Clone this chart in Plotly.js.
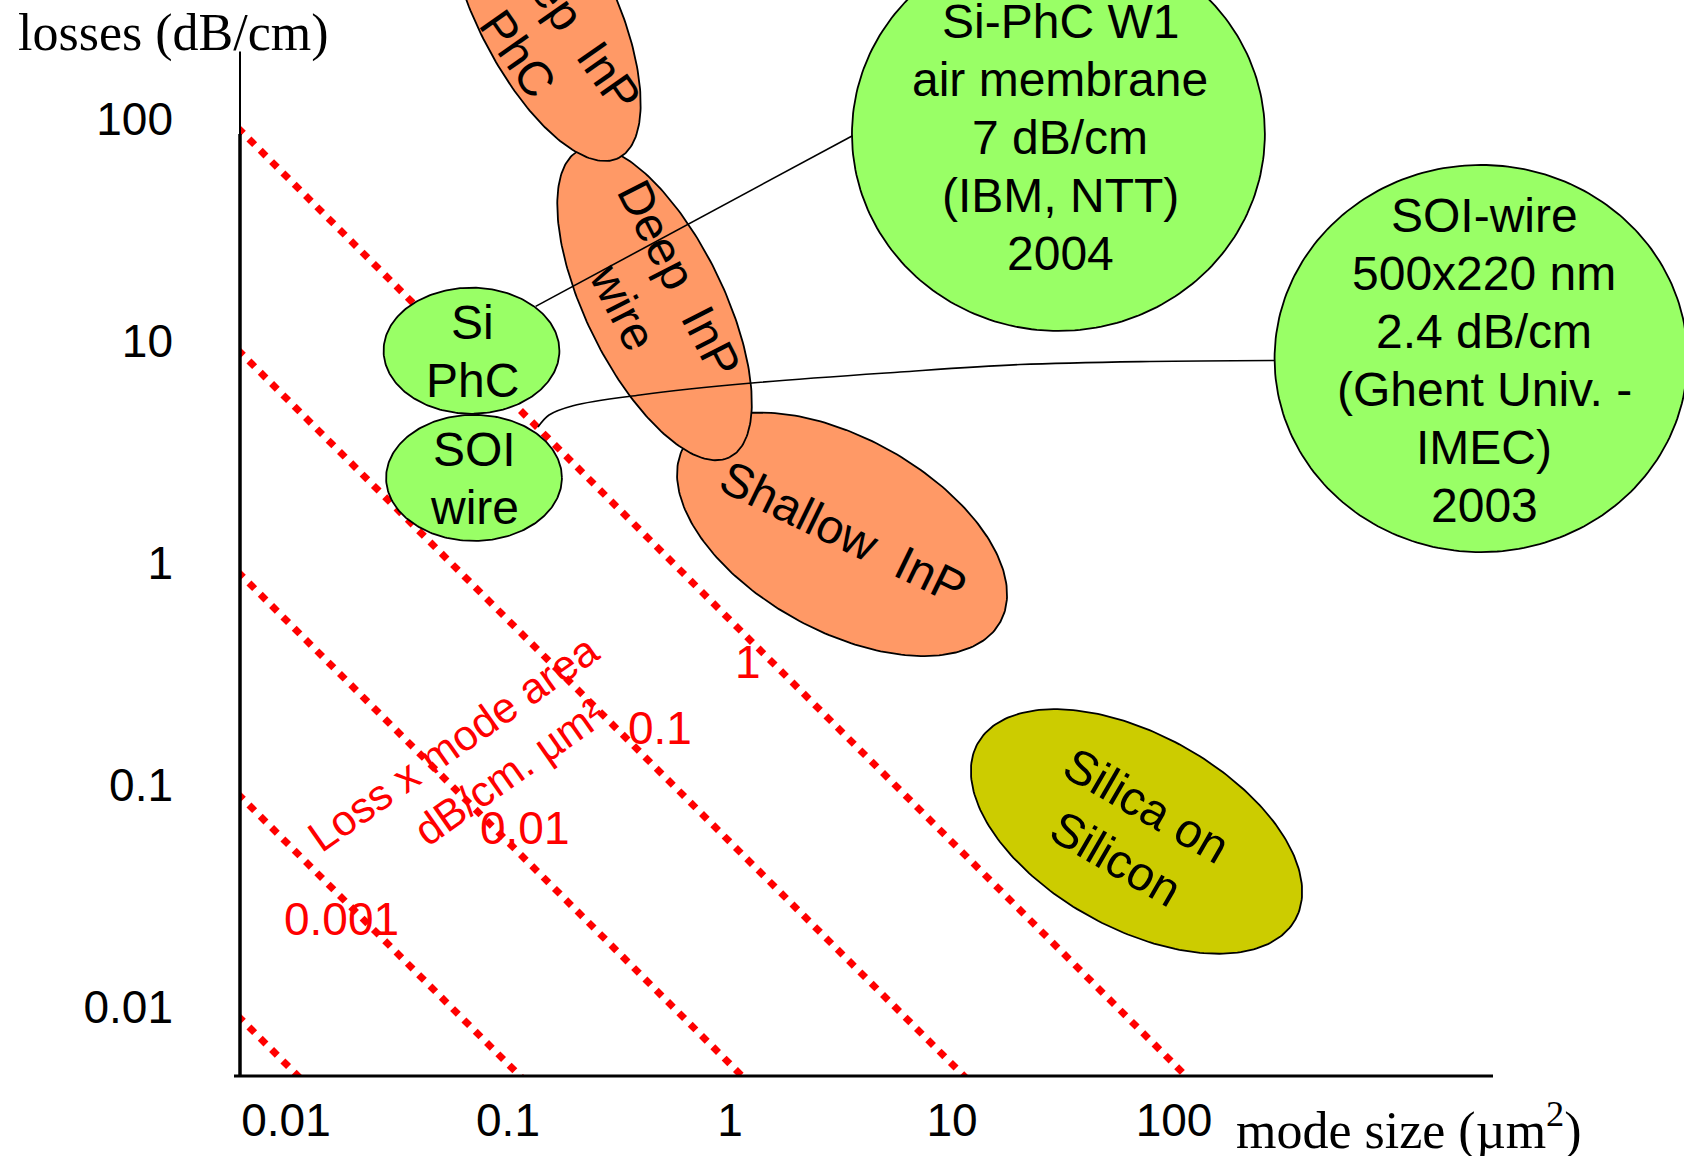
<!DOCTYPE html>
<html><head><meta charset="utf-8">
<script src="https://cdn.plot.ly/plotly-3.0.1.min.js"></script>
<style>html,body{margin:0;padding:0;background:#fff;} #chart{width:1684px;height:1156px;}</style>
</head><body><div id="chart"></div>
<script>
// ---- data ----
// axis ticks
const xTickVals = [0.01, 0.1, 1, 10, 100];
const xTickText = ["0.01", "0.1", "1", "10", "100"];
const yTickVals = [0.01, 0.1, 1, 10, 100];
const yTickText = ["0.01", "0.1", "1", "10", "100"];

// iso lines: loss x mode area = constant (dB/cm . µm²)
const productValues = [1, 0.1, 0.01, 0.001, 0.0001];
const productLabels = ["1", "0.1", "0.01", "0.001"];
const productLabelModeSize = [1.587, 0.640, 0.1578, 0.02341];
const productLabelLoss = [0.4888, 0.2477, 0.0874, 0.0340];

// technology regions (centre in mode size / loss, extent in decades, tilt in degrees)
const regionGroup = ["InP", "InP", "InP", "Silica", "Si", "Si", "Si", "Si"];
const regionText = ["Shallow\u00a0 InP", "Deep\u00a0 InP<br>wire", "Deep\u00a0 InP<br>PhC", "Silica on<br>Silicon",
  "Si<br>PhC", "SOI<br>wire", "Si-PhC W1<br>air membrane<br>7 dB/cm<br>(IBM, NTT)<br>2004",
  "SOI-wire<br>500x220 nm<br>2.4 dB/cm<br>(Ghent Univ. -<br>IMEC)<br>2003"];
const regionModeSize = [4.23, 0.605, 0.191, 89.7, 0.0906, 0.0930, 39.9, 3196];
const regionLoss = [1.838, 20.1, 447.7, 0.0843, 12.34, 3.30, 116.8, 11.38];
const regionMajorDecades = [0.815, 0.770, 0.770, 0.818, 0.396, 0.396, 0.930, 0.930];
const regionMinorDecades = [0.435, 0.311, 0.311, 0.437, 0.284, 0.284, 0.887, 0.872];
const regionTiltDeg = [-29, -64, -64, -29, 0, 0, 0, 0];
const regionLabelModeSize = [4.272, 0.5831, 0.1902, 84.7, 0.0920, 0.0930, 40.56, 3296];
const regionLabelLoss = [1.873, 22.46, 322.9, 0.0838, 12.24, 3.280, 112.1, 11.2];
const regionLabelAngle = [26, 63, 55, 30, 0, 0, 0, 0];

// call-out connectors
const calloutPhcModeSize = [0.1763, 4.714];
const calloutPhcLoss = [19.55, 114.8];
const calloutWireModeSize = [0.1806, 0.2025, 0.2597, 0.5201, 1.662, 7.718, 26.79, 103.1, 373.4];
const calloutWireLoss = [5.594, 6.337, 6.979, 7.798, 8.830, 9.897, 10.69, 11.04, 11.15];

// ---- styles ----
const groupFill = {InP: "#FF9966", Silica: "#CCCC00", Si: "#99FF66"};
const SANS = "Liberation Sans, Arial, sans-serif";
const SERIF = "Liberation Serif, Times New Roman, serif";
const LINE_GAP_UPRIGHT = 58, LINE_GAP_TILTED = 62;

const traces = [];
// iso-product lines
const xSpan = [Math.pow(10, -2.3), Math.pow(10, 4.6)];
productValues.forEach(function (c) {
  traces.push({type: "scatter", mode: "lines", x: xSpan, y: xSpan.map(function (x) { return c / x; }),
    line: {color: "#FF0000", width: 7, dash: "8px,8px"}, hoverinfo: "skip", showlegend: false});
});
// region ellipses (drawn in log space)
regionGroup.forEach(function (g, i) {
  const n = 240, lx = Math.log10(regionModeSize[i]), ly = Math.log10(regionLoss[i]);
  const A = regionMajorDecades[i], B = regionMinorDecades[i], phi = regionTiltDeg[i] * Math.PI / 180;
  const xs = [], ys = [];
  for (let k = 0; k <= n; k++) {
    const t = 2 * Math.PI * k / n, dx = A * Math.cos(t), dy = B * Math.sin(t);
    xs.push(Math.pow(10, lx + dx * Math.cos(phi) - dy * Math.sin(phi)));
    ys.push(Math.pow(10, ly + dx * Math.sin(phi) + dy * Math.cos(phi)));
  }
  traces.push({type: "scatter", mode: "lines", x: xs, y: ys, fill: "toself",
    fillcolor: groupFill[g], line: {color: "#000", width: 1.8},
    hoverinfo: "skip", showlegend: false});
});
// connectors
traces.push({type: "scatter", mode: "lines", x: calloutPhcModeSize, y: calloutPhcLoss,
  line: {color: "#000", width: 1.6}, hoverinfo: "skip", showlegend: false});
traces.push({type: "scatter", mode: "lines", x: calloutWireModeSize, y: calloutWireLoss,
  line: {color: "#000", width: 1.6, shape: "spline", smoothing: 1}, hoverinfo: "skip", showlegend: false});

const annotations = [];
regionText.forEach(function (t, i) {
  const lines = t.split("<br>"), n = lines.length, ang = regionLabelAngle[i];
  const gap = ang === 0 ? LINE_GAP_UPRIGHT : LINE_GAP_TILTED, a = ang * Math.PI / 180;
  lines.forEach(function (line, j) {
    const d = (j - (n - 1) / 2) * gap;
    annotations.push({xref: "x", yref: "y", x: Math.log10(regionLabelModeSize[i]), y: Math.log10(regionLabelLoss[i]),
      xshift: -Math.sin(a) * d, yshift: -Math.cos(a) * d,
      text: line, showarrow: false, textangle: ang, xanchor: "center", yanchor: "middle",
      font: {family: SANS, size: 48, color: "#000"}});
  });
});
productLabels.forEach(function (t, i) {
  annotations.push({xref: "x", yref: "y", x: Math.log10(productLabelModeSize[i]), y: Math.log10(productLabelLoss[i]),
    text: t, showarrow: false, xanchor: "center", yanchor: "middle",
    font: {family: SANS, size: 46, color: "#FF0000"}});
});
annotations.push({xref: "x", yref: "y", x: Math.log10(0.0748), y: Math.log10(0.2110), text: "Loss x mode area",
  showarrow: false, textangle: -35, xanchor: "center", yanchor: "middle", font: {family: SANS, size: 43, color: "#FF0000"}});
annotations.push({xref: "x", yref: "y", x: Math.log10(0.1337), y: Math.log10(0.1562), text: "dB/cm. \u00b5m\u00b2",
  showarrow: false, textangle: -35, xanchor: "center", yanchor: "middle", font: {family: SANS, size: 43, color: "#FF0000"}});

// axis titles (placed as in the original slide)
const PW = 1444, PH = 1076, ML = 240;
annotations.push({xref: "paper", yref: "paper", x: (16 - ML) / PW, y: (PH - 33) / PH, xanchor: "left", yanchor: "middle",
  text: "losses (dB/cm)", showarrow: false, font: {family: SERIF, size: 52, color: "#000"}});
annotations.push({xref: "paper", yref: "paper", x: (1234 - ML) / PW, y: (PH - 1127) / PH, xanchor: "left", yanchor: "middle",
  text: "mode size (\u00b5m<sup>2</sup>)", showarrow: false, font: {family: SERIF, size: 52, color: "#000"}});

const shapes = [
  {type: "line", xref: "paper", yref: "paper", x0: 0, x1: 0, y0: (PH - 134) / PH, y1: (PH - 51.5) / PH, line: {color: "#000", width: 2}},
  {type: "line", xref: "paper", yref: "paper", x0: 0, x1: 0, y0: 0, y1: (PH - 134) / PH, line: {color: "#000", width: 3.5}},
  {type: "line", xref: "paper", yref: "paper", x0: (234 - ML) / PW, x1: (1493 - ML) / PW, y0: 0, y1: 0, line: {color: "#000", width: 3}}
];

const layout = {
  width: 1684, height: 1156,
  margin: {l: ML, r: 0, t: 0, b: 80, pad: 0},
  paper_bgcolor: "#fff", plot_bgcolor: "rgba(0,0,0,0)",
  showlegend: false,
  xaxis: {type: "log", range: [-2.0856, 4.4189], tickmode: "array", tickvals: xTickVals, ticktext: xTickText,
    showgrid: false, zeroline: false, showline: false, ticks: "", fixedrange: true,
    tickfont: {family: SANS, size: 46, color: "#000"}, ticklabelshift: 27, ticklabelstandoff: 13},
  yaxis: {type: "log", range: [-2.1757, 2.6712], tickmode: "array", tickvals: yTickVals, ticktext: yTickText,
    showgrid: false, zeroline: false, showline: false, ticks: "", fixedrange: true,
    tickfont: {family: SANS, size: 46, color: "#000"}, ticklabelshift: -30, ticklabelstandoff: 66},
  shapes: shapes,
  annotations: annotations
};

Plotly.newPlot("chart", traces, layout, {displayModeBar: false, staticPlot: true});
</script></body></html>
